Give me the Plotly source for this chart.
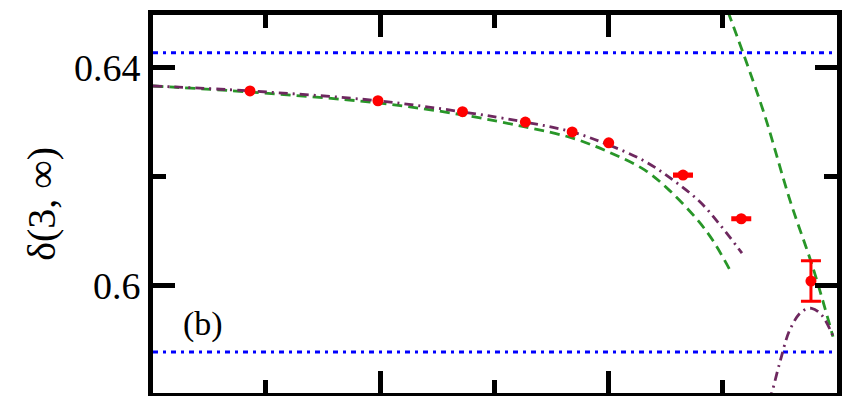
import plotly.graph_objects as go

# data points (red)
pts_x = [0.86, 1.98, 2.72, 3.27, 3.68, 4.00]
pts_y = [0.6357, 0.6339, 0.6319, 0.6300, 0.6282, 0.6262]
err_x = [4.65, 5.16, 5.77]
err_y = [0.6203, 0.6123, 0.6009]
err_e = [0.0002, 0.0002, 0.0037]

# green dashed curve, branch 1
g1_x = [0.011, 0.860, 1.980, 2.724, 3.267, 3.678, 4.002, 4.317, 4.536, 4.772, 4.912, 5.061]
g1_y = [0.6366, 0.6355, 0.6335, 0.6313, 0.6291, 0.6271, 0.6245, 0.6212, 0.6174, 0.6122, 0.6083, 0.6029]
# green dashed curve, branch 2
g2_x = [5.044, 5.350, 5.586, 5.788, 5.963]
g2_y = [0.6502, 0.6322, 0.6157, 0.6033, 0.5907]

# purple dash-dot curve, branch 1
p1_x = [0.011, 0.860, 1.980, 2.724, 3.267, 3.678, 4.002, 4.317, 4.562, 4.798, 4.974, 5.166]
p1_y = [0.6366, 0.6357, 0.6339, 0.63185, 0.6300, 0.6282, 0.6258, 0.6228, 0.6194, 0.6154, 0.6112, 0.6060]
# purple dash-dot curve, branch 2
p2_x = [5.40, 5.426, 5.499, 5.586, 5.689, 5.776, 5.863, 5.965]
p2_y = [0.5790, 0.5804, 0.5861, 0.5920, 0.5953, 0.5959, 0.5947, 0.5907]

# blue dotted horizontal bounds
bound_y = [0.6427, 0.5879]

x_range = [0.011, 5.998]
y_range = [0.5804, 0.6496]
y_major = [0.6, 0.64]
y_major_text = ["0.6", "0.64"]
y_minor = [0.62]
x_major = [2, 4]
x_minor = [1, 3, 5]

GREEN = "rgb(40,150,40)"
PURPLE = "rgb(110,40,95)"
BLUE = "rgb(0,0,255)"
RED = "rgb(255,0,0)"

fig = go.Figure()
for by in bound_y:
    fig.add_trace(go.Scatter(x=x_range, y=[by, by], mode="lines",
                             line=dict(color=BLUE, width=3, dash="5px,5px,3px,5px"),
                             showlegend=False, hoverinfo="skip"))
fig.add_trace(go.Scatter(x=g1_x, y=g1_y, mode="lines", line=dict(color=GREEN, width=2.8, dash="10px,6px", shape="spline"), showlegend=False))
fig.add_trace(go.Scatter(x=g2_x, y=g2_y, mode="lines", line=dict(color=GREEN, width=2.8, dash="10px,6px", shape="spline"), showlegend=False))
fig.add_trace(go.Scatter(x=p1_x, y=p1_y, mode="lines", line=dict(color=PURPLE, width=2.8, dash="9px,5px,2px,5px", shape="spline"), showlegend=False))
fig.add_trace(go.Scatter(x=p2_x, y=p2_y, mode="lines", line=dict(color=PURPLE, width=2.8, dash="9px,5px,2px,5px", shape="spline"), showlegend=False))
fig.add_trace(go.Scatter(x=pts_x, y=pts_y, mode="markers", marker=dict(color=RED, size=11), showlegend=False))
fig.add_trace(go.Scatter(x=err_x, y=err_y, mode="markers", marker=dict(color=RED, size=11),
                         error_y=dict(type="data", array=err_e, color=RED, thickness=3, width=10),
                         showlegend=False))

fig.add_annotation(x=0.448, y=0.5930, xref="x", yref="y", text="(b)", showarrow=False,
                   font=dict(family="Liberation Serif", size=34, color="black"))
fig.add_annotation(x=-0.164, y=0.5, xref="paper", yref="paper", text="δ(3, ∞)", textangle=-90,
                   showarrow=False, xanchor="center", yanchor="middle",
                   font=dict(family="Liberation Serif", size=40, color="black"))

fig.update_xaxes(range=x_range, showgrid=False, zeroline=False, showline=True, linewidth=5,
                 linecolor="black", mirror="ticks", ticks="inside", ticklen=22, tickwidth=5,
                 tickcolor="black", tickvals=x_major, showticklabels=False,
                 minor=dict(tickvals=x_minor, ticks="inside", ticklen=13, tickwidth=5, tickcolor="black"))
fig.update_yaxes(range=y_range, showgrid=False, zeroline=False, showline=True, linewidth=5,
                 linecolor="black", mirror="ticks", ticks="inside", ticklen=22, tickwidth=5,
                 tickcolor="black", tickvals=y_major, ticktext=y_major_text,
                 tickfont=dict(family="Liberation Serif", size=38, color="black"),
                 minor=dict(tickvals=y_minor, ticks="inside", ticklen=13, tickwidth=5, tickcolor="black"))

fig.update_layout(width=852, height=396, margin=dict(l=153, r=15, t=15, b=3),
                  plot_bgcolor="white", paper_bgcolor="white")
fig.write_html("out.html")
